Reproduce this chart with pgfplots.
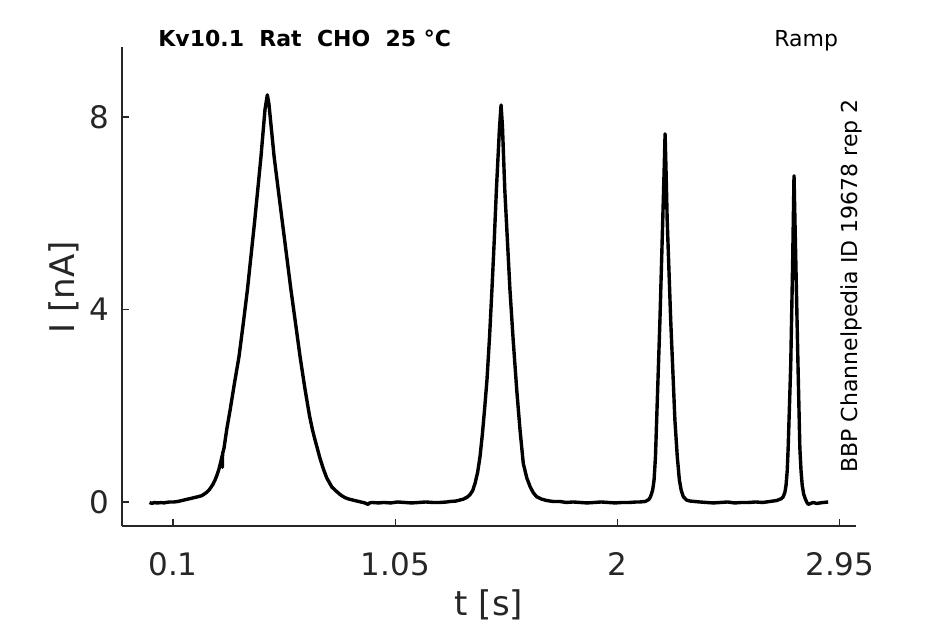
\documentclass[border=0pt]{standalone}
\usepackage{pgfplots}
\pgfplotsset{compat=1.18}
\usepackage{fontspec}
\setmainfont{DejaVu Sans}
\definecolor{axgray}{RGB}{38,38,38}
\pgfplotstableread{
t I
0.000 -0.01
0.010 -0.03
0.020 -0.01
0.030 -0.02
0.036 -0.02
0.050 -0.01
0.060 -0.02
0.070 -0.01
0.085 0.00
0.104 0.00
0.120 0.01
0.138 0.03
0.155 0.05
0.173 0.07
0.190 0.09
0.207 0.11
0.222 0.13
0.232 0.16
0.244 0.20
0.254 0.25
0.263 0.31
0.271 0.37
0.280 0.46
0.288 0.56
0.296 0.68
0.303 0.81
0.310 0.96
0.3112 0.72
0.3118 1.00
0.318 1.12
0.330 1.52
0.344 1.91
0.362 2.45
0.382 3.02
0.400 3.70
0.418 4.41
0.433 5.10
0.448 5.79
0.462 6.48
0.476 7.18
0.493 8.15
0.503 8.46
0.510 8.27
0.532 7.18
0.550 6.48
0.568 5.79
0.586 5.10
0.604 4.41
0.624 3.70
0.643 3.02
0.663 2.38
0.683 1.80
0.696 1.50
0.707 1.29
0.728 0.91
0.743 0.68
0.757 0.50
0.779 0.31
0.801 0.21
0.818 0.14
0.835 0.09
0.852 0.06
0.869 0.04
0.885 0.02
0.903 0.00
0.920 -0.02
0.933 -0.05
0.940 -0.02
0.950 -0.01
0.980 -0.02
1.000 -0.01
1.030 -0.02
1.060 0.00
1.090 -0.01
1.120 -0.02
1.150 -0.01
1.180 0.00
1.210 -0.01
1.240 -0.01
1.270 0.00
1.284 0.01
1.310 0.02
1.341 0.06
1.357 0.10
1.369 0.15
1.381 0.24
1.391 0.39
1.402 0.62
1.412 0.94
1.422 1.40
1.432 1.95
1.442 2.55
1.453 3.45
1.463 4.41
1.473 5.45
1.482 6.48
1.495 7.75
1.502 8.25
1.508 7.80
1.518 6.48
1.529 5.45
1.540 4.41
1.554 3.35
1.569 2.33
1.583 1.50
1.597 0.80
1.612 0.50
1.626 0.32
1.640 0.19
1.654 0.11
1.675 0.06
1.697 0.03
1.725 0.01
1.754 0.01
1.780 -0.01
1.810 0.00
1.840 -0.01
1.870 -0.02
1.900 -0.01
1.930 0.00
1.960 -0.01
1.990 -0.02
2.020 -0.01
2.050 -0.01
2.080 0.00
2.095 0.00
2.118 0.01
2.133 0.05
2.141 0.11
2.150 0.25
2.156 0.46
2.162 0.95
2.167 1.70
2.181 3.78
2.193 5.86
2.199 6.90
2.203 7.65
2.207 6.90
2.212 5.86
2.227 3.78
2.245 1.70
2.255 0.95
2.264 0.46
2.272 0.24
2.281 0.11
2.295 0.04
2.309 0.02
2.330 0.01
2.352 0.00
2.380 -0.01
2.410 -0.02
2.440 -0.01
2.470 0.00
2.500 -0.02
2.530 -0.01
2.560 -0.01
2.590 0.00
2.620 -0.01
2.651 0.01
2.680 0.03
2.700 0.07
2.708 0.11
2.715 0.20
2.720 0.35
2.725 0.65
2.729 1.12
2.740 2.85
2.748 4.93
2.754 6.78
2.762 4.93
2.771 2.85
2.779 1.12
2.784 0.65
2.789 0.35
2.795 0.17
2.801 0.08
2.808 0.00
2.815 -0.05
2.825 -0.03
2.836 -0.01
2.850 -0.03
2.865 -0.02
2.880 -0.01
2.900 0.00
}\ramp
\begin{document}
\begin{tikzpicture}[x=1pt,y=1pt]
\begin{axis}[
  at={(61pt,49pt)}, anchor=south west,
  width=367pt, height=239.5pt, scale only axis,
  xmin=-0.118, xmax=3.019, ymin=-0.499, ymax=9.455,
  axis x line*=bottom, axis y line*=left,
  axis line style={axgray, line width=0.6pt, -},
  xtick={0.1,1.05,2,2.95}, ytick={0,4,8},
  xticklabels={0.1,1.05,2,2.95},
  tick align=inside, major tick length=3.7pt,
  tick style={axgray, line width=0.6pt},
  ticklabel style={font=\fontsize{15.5}{18}\selectfont, text=axgray},
  /pgf/number format/assume math mode=true,
  x tick label style={yshift=-9.5pt},
  y tick label style={xshift=-3pt},
  clip=false,
]
\addplot[black, line width=1.7pt, line join=round, mark=none] table[x=t, y=I] {\ramp};
\end{axis}
\node[anchor=base, font=\fontsize{17}{20}\selectfont, text=axgray] at (244.5pt,4pt) {t [s]};
\node[rotate=90, anchor=base, font=\fontsize{17}{20}\selectfont, text=axgray] at (37pt,168.5pt) {I [nA]};
\node[anchor=base west, inner sep=0pt, font=\bfseries\fontsize{11}{13}\selectfont] at (79pt,288.7pt) {Kv10.1~~Rat~~CHO~~25~°C};
\node[anchor=base east, inner sep=0pt, font=\fontsize{11}{13}\selectfont] at (419.2pt,288.7pt) {Ramp};
\node[rotate=90, anchor=base west, inner sep=0pt, font=\fontsize{11}{13}\selectfont] at (428.7pt,75.5pt) {BBP Channelpedia ID 19678 rep 2};
\pgfresetboundingbox
\path[use as bounding box] (0pt,0pt) rectangle (472.5pt,312pt);
\end{tikzpicture}
\end{document}
